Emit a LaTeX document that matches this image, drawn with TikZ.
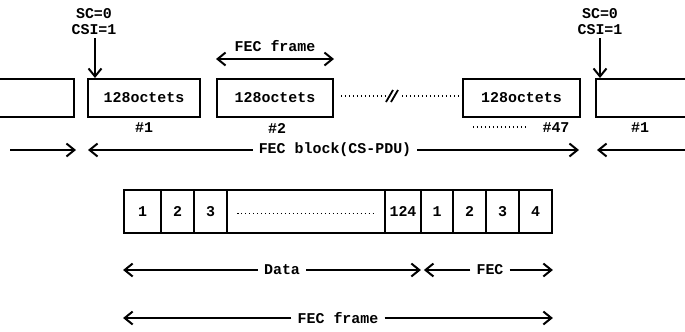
\documentclass[tikz,border=0pt]{standalone}
\usepackage{fontspec}
\setmonofont{Liberation Mono}
\usetikzlibrary{arrows.meta,positioning}

\tikzset{
  lbl/.style={font=\ttfamily\bfseries\fontsize{15}{16}\selectfont, inner sep=6pt},
  frame/.style={lbl, draw, line width=2pt, minimum height=38bp},
  cell/.style={lbl, draw, line width=1.8pt, minimum height=43bp, inner sep=0pt},
  arr/.style={line width=2pt, -{Straight Barb[length=8pt,width=13pt]}},
  darr/.style={line width=2pt, {Straight Barb[length=8pt,width=13pt]}-{Straight Barb[length=8pt,width=13pt]}},
  dotline/.style={line width=1.6pt, dash pattern=on 1.4pt off 2.6pt}
}

\begin{document}
\begin{tikzpicture}[x=1bp,y=-1bp]
\useasboundingbox (0,0) rectangle (685,331);

   % top row: FEC block
   \node[frame, minimum width=112bp] (blk1) at (144,98) {128octets};
   \node[frame, minimum width=116bp] (blk2) at (275,98) {128octets};
   \node[frame, minimum width=117bp] (blk47) at (521.5,98) {128octets};
   \draw[line width=2pt] (0,79) -- (74,79) -- (74,117) -- (0,117);
   \draw[line width=2pt] (685,79) -- (596,79) -- (596,117) -- (685,117);

   \node[lbl] (num1) at (144,128) {\#1};
   \node[lbl] (num2) at (277,128) {\#2};
   \node[lbl] (num47) at (556,128) {\#47};
   \node[lbl] (num1b) at (640,128) {\#1};
   \coordinate (d47a) at (473,127);
   \coordinate (d47b) at (527,127);
   \draw[dotline] (d47a) -- (d47b);

   % gap between #2 and #47
   \coordinate (brk) at (392,96);
   \draw[dotline, shorten <=7bp] (blk2.east |- brk) -- ([xshift=-5bp]brk);
   \draw[dotline, shorten <=5bp] ([xshift=5bp]brk) -- (blk47.west |- brk);
   \draw[line width=1.8pt] ([xshift=-6bp,yshift=-6bp]brk) -- ([xshift=1bp,yshift=6bp]brk);
   \draw[line width=1.8pt] ([xshift=-1bp,yshift=-6bp]brk) -- ([xshift=6bp,yshift=6bp]brk);

   % SC / CSI markers
   \node[lbl, align=center, inner sep=0pt] (sc1) at (94,22) {SC=0\\CSI=1};
   \node[lbl, align=center, inner sep=0pt] (sc2) at (600,22) {SC=0\\CSI=1};
   \draw[arr] ([xshift=1bp,yshift=-3bp]sc1.south) -- ([xshift=1bp]sc1.south |- blk1.north);
   \draw[arr] ([yshift=-3bp]sc2.south) -- (sc2.south |- blk1.north);

   % FEC frame above #2
   \node[lbl] (fecf) at (275,46) {FEC frame};
   \draw[darr] ([yshift=19bp]blk2.north west) -- ([yshift=19bp]blk2.north east);

   % FEC block arrows
   \node[lbl] (fecb) at (335,150) {FEC block(CS-PDU)};
   \coordinate (bl) at (88,150);
   \coordinate (br) at (579,150);
   \coordinate (pl0) at (10,150);
   \coordinate (pl1) at (76,150);
   \coordinate (pr0) at (685,150);
   \coordinate (pr1) at (597,150);
   \draw[arr] (fecb) -- (bl);
   \draw[arr] (fecb) -- (br);
   \draw[arr] (pl0) -- (pl1);
   \draw[arr] (pr0) -- (pr1);

   % FEC frame cells
   \node[cell, minimum width=37bp] (c1) at (142.5,211.5) {1};
   \node[cell, minimum width=33bp] (c2) at (177.5,211.5) {2};
   \node[cell, minimum width=33bp] (c3) at (210.5,211.5) {3};
   \node[cell, minimum width=158bp] (cdots) at (306,211.5) {};
   \node[cell, minimum width=36bp] (c124) at (403,211.5) {124};
   \node[cell, minimum width=32bp] (f1) at (437,211.5) {1};
   \node[cell, minimum width=33bp] (f2) at (469.5,211.5) {2};
   \node[cell, minimum width=33bp] (f3) at (502.5,211.5) {3};
   \node[cell, minimum width=33bp] (f4) at (535.5,211.5) {4};
   \draw[dotline] ([xshift=11bp,yshift=-2bp]cdots.west) -- ([xshift=-13bp,yshift=-2bp]cdots.east);

   % Data / FEC
   \node[lbl] (data) at (282,270) {Data};
   \node[lbl] (fec) at (490,270) {FEC};
   \draw[arr] (data) -- (c1.west |- data);
   \draw[arr] (data) -- ([xshift=-1bp]c124.east |- data);
   \draw[arr] (fec) -- ([xshift=2bp]c124.east |- fec);
   \draw[arr] (fec) -- (f4.east |- fec);

   % whole FEC frame
   \node[lbl] (fecfr) at (338,318) {FEC frame};
   \draw[arr] (fecfr) -- (c1.west |- fecfr);
   \draw[arr] (fecfr) -- (f4.east |- fecfr);

\end{tikzpicture}
\end{document}
